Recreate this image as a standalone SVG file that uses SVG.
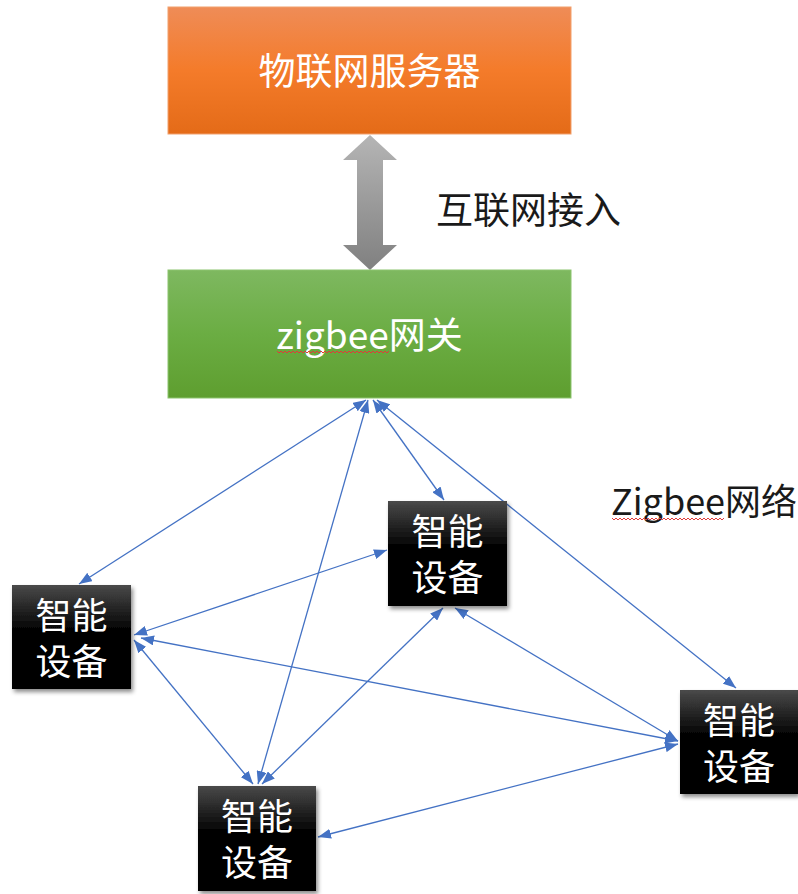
<svg xmlns="http://www.w3.org/2000/svg" width="798" height="894" viewBox="0 0 798 894">
<style>
.cjk{font-family:"Noto Sans CJK SC","Noto Sans",sans-serif;}
.wt{fill:#ffffff;font-size:37px;}
.dev{fill:#ffffff;font-size:36px;}
.blk{fill:#1a1a1a;font-size:37px;}
.conn{stroke:#4472C4;stroke-width:1.3;fill:none;marker-start:url(#ah);marker-end:url(#ah);}
.box{fill:url(#gDev);filter:url(#sh);}
.sq{stroke:#e03a3a;stroke-width:1;fill:none;}
</style>
<defs>
<linearGradient id="gOr" x1="0" y1="0" x2="0" y2="1">
<stop offset="0" stop-color="#EF8C57"/>
<stop offset="0.5" stop-color="#F47B2A"/>
<stop offset="1" stop-color="#E46B18"/>
</linearGradient>
<linearGradient id="gGr" x1="0" y1="0" x2="0" y2="1">
<stop offset="0" stop-color="#7EB860"/>
<stop offset="0.5" stop-color="#6BAD43"/>
<stop offset="1" stop-color="#5E9E2F"/>
</linearGradient>
<linearGradient id="gGy" x1="0" y1="0" x2="0" y2="1">
<stop offset="0" stop-color="#B5B5B5"/>
<stop offset="1" stop-color="#808080"/>
</linearGradient>
<linearGradient id="gDev" x1="0" y1="0" x2="0" y2="1">
<stop offset="0" stop-color="#4a4a4a"/>
<stop offset="0.45" stop-color="#000000"/>
<stop offset="1" stop-color="#000000"/>
</linearGradient>
<filter id="sh" x="-10%" y="-10%" width="125%" height="125%">
<feDropShadow dx="2" dy="3" stdDeviation="2" flood-color="#000" flood-opacity="0.45"/>
</filter>
<marker id="ah" markerUnits="userSpaceOnUse" markerWidth="13" markerHeight="10" refX="13" refY="5" orient="auto-start-reverse">
<path d="M0,0 L13,5 L0,10 z" fill="#4472C4"/>
</marker>
</defs>

<g id="server">
<rect x="168" y="7" width="403" height="127" fill="url(#gOr)" stroke="#F2A06C" stroke-width="1"/>
<text class="cjk wt" x="369.5" y="85" text-anchor="middle">物联网服务器</text>
</g>

<g id="internet-link">
<polygon points="370,135 397,160 383,160 383,245 397,245 370,270 343,245 357,245 357,160 343,160" fill="url(#gGy)"/>
<text class="cjk blk" x="436" y="224">互联网接入</text>
</g>

<g id="gateway">
<rect x="168" y="270" width="403" height="128" fill="url(#gGr)" stroke="#8CC46E" stroke-width="1"/>
<text class="cjk wt" x="369.5" y="349" text-anchor="middle">zigbee网关</text>
<path class="sq" d="M277,351 l2,2 l2,-2 l2,2 l2,-2 l2,2 l2,-2 l2,2 l2,-2 l2,2 l2,-2 l2,2 l2,-2 l2,2 l2,-2 l2,2 l2,-2 l2,2 l2,-2 l2,2 l2,-2 l2,2 l2,-2 l2,2 l2,-2 l2,2 l2,-2 l2,2 l2,-2 l2,2 l2,-2 l2,2 l2,-2 l2,2 l2,-2 l2,2 l2,-2 l2,2 l2,-2 l2,2 l2,-2 l2,2 l2,-2 l2,2 l2,-2 l2,2 l2,-2 l2,2 l2,-2 l2,2 l2,-2 l2,2 l2,-2 l2,2 l2,-2 l2,2 l2,-2"/>
</g>

<g id="network-label">
<text class="cjk blk" x="611" y="515" style="font-size:36px">Zigbee网络</text>
<path class="sq" d="M612,518 l2,2 l2,-2 l2,2 l2,-2 l2,2 l2,-2 l2,2 l2,-2 l2,2 l2,-2 l2,2 l2,-2 l2,2 l2,-2 l2,2 l2,-2 l2,2 l2,-2 l2,2 l2,-2 l2,2 l2,-2 l2,2 l2,-2 l2,2 l2,-2 l2,2 l2,-2 l2,2 l2,-2 l2,2 l2,-2 l2,2 l2,-2 l2,2 l2,-2 l2,2 l2,-2 l2,2 l2,-2 l2,2 l2,-2 l2,2 l2,-2 l2,2 l2,-2 l2,2 l2,-2 l2,2 l2,-2 l2,2 l2,-2 l2,2 l2,-2 l2,2 l2,-2"/>
</g>

<g id="connectors">
<line class="conn" x1="366" y1="400" x2="79" y2="584"/>
<line class="conn" x1="368" y1="400" x2="258" y2="784"/>
<line class="conn" x1="373" y1="400" x2="444" y2="500"/>
<line class="conn" x1="377" y1="400" x2="736" y2="688"/>
<line class="conn" x1="134" y1="635" x2="387" y2="550"/>
<line class="conn" x1="141" y1="638" x2="678" y2="741"/>
<line class="conn" x1="134" y1="640" x2="253" y2="784"/>
<line class="conn" x1="443" y1="608" x2="262" y2="784"/>
<line class="conn" x1="455" y1="608" x2="678" y2="741"/>
<line class="conn" x1="318" y1="837" x2="678" y2="744"/>
</g>

<g id="device-a">
<rect class="box" x="12" y="585" width="119" height="104"/>
<text class="cjk dev" text-anchor="middle"><tspan x="71.5" y="629">智能</tspan><tspan x="71.5" y="675">设备</tspan></text>
</g>

<g id="device-b">
<rect class="box" x="388" y="501" width="119" height="105"/>
<text class="cjk dev" text-anchor="middle"><tspan x="447.5" y="545">智能</tspan><tspan x="447.5" y="591">设备</tspan></text>
</g>

<g id="device-c">
<rect class="box" x="680" y="690" width="118" height="104"/>
<text class="cjk dev" text-anchor="middle"><tspan x="739" y="734">智能</tspan><tspan x="739" y="780">设备</tspan></text>
</g>

<g id="device-d">
<rect class="box" x="198" y="786" width="118" height="105"/>
<text class="cjk dev" text-anchor="middle"><tspan x="257" y="830">智能</tspan><tspan x="257" y="876">设备</tspan></text>
</g>
</svg>
